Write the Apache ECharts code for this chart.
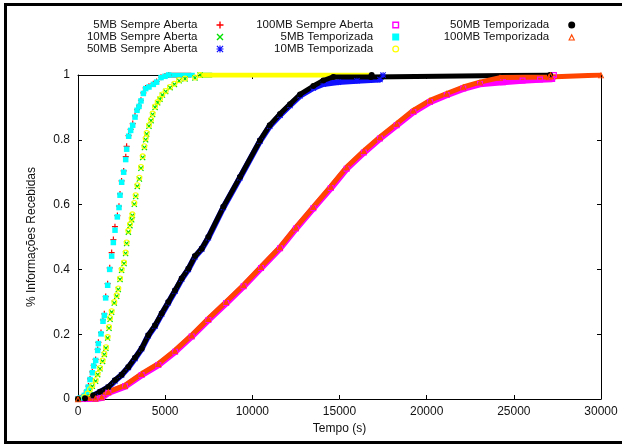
<!DOCTYPE html>
<html>
<head>
<meta charset="utf-8">
<script src="https://cdn.jsdelivr.net/npm/echarts@6/dist/echarts.min.js"></script>
<style>
  html, body { margin: 0; padding: 0; background: #fff; }
  #chart { width: 622px; height: 445px; }
</style>
</head>
<body>
<div id="chart"></div>
<script>
// nomes das curvas, na ordem do gnuplot
const nomes = [
  '5MB Sempre Aberta', '10MB Sempre Aberta', '50MB Sempre Aberta', '100MB Sempre Aberta',
  '5MB Temporizada', '10MB Temporizada', '50MB Temporizada', '100MB Temporizada'
];
const ticksTempo = [0, 5000, 10000, 15000, 20000, 25000, 30000];
const ticksFracao = [0, 0.2, 0.4, 0.6, 0.8, 1];

// [tempo (s), fração recebida]
const sempre5MB = [[0,0],[120,0.004],[360,0.013],[500,0.025],[600,0.040],[690,0.062],[820,0.084],[900,0.104],[1010,0.122],[1130,0.153],[1170,0.175],[1320,0.205],[1430,0.244],[1510,0.263],[1590,0.316],[1700,0.356],[1820,0.405],[1930,0.452],[2030,0.492],[2120,0.532],[2260,0.566],[2350,0.595],[2410,0.633],[2500,0.673],[2620,0.704],[2740,0.748],[2790,0.780],[2900,0.813],[3020,0.832],[3140,0.850],[3270,0.874],[3390,0.893],[3500,0.905],[3610,0.922],[3750,0.945],[3880,0.960],[4070,0.965],[4320,0.973],[4510,0.980],[4760,0.993],[4990,0.997],[5200,1]];
const sempre10MB = [[0,0],[360,0.005],[550,0.015],[690,0.027],[820,0.039],[1010,0.055],[1130,0.075],[1260,0.093],[1410,0.116],[1510,0.137],[1600,0.157],[1700,0.188],[1780,0.218],[1840,0.246],[1930,0.268],[2080,0.296],[2220,0.317],[2310,0.338],[2410,0.369],[2500,0.397],[2640,0.418],[2730,0.449],[2790,0.480],[2890,0.515],[2980,0.535],[3080,0.553],[3120,0.566],[3230,0.601],[3310,0.625],[3400,0.656],[3520,0.679],[3610,0.712],[3710,0.745],[3810,0.776],[3880,0.800],[3940,0.818],[4070,0.842],[4190,0.859],[4280,0.878],[4420,0.900],[4570,0.914],[4700,0.925],[4840,0.938],[5030,0.949],[5280,0.961],[5530,0.971],[5800,0.982],[6140,0.988],[6710,0.991],[7000,1]];
const sempre50MB = [[0,0],[400,0.002],[880,0.010],[1260,0.021],[1740,0.036],[2120,0.056],[2500,0.074],[2890,0.097],[3270,0.125],[3650,0.155],[4030,0.195],[4420,0.225],[4800,0.262],[5180,0.297],[5570,0.333],[5950,0.370],[6330,0.400],[6710,0.439],[7100,0.463],[7480,0.498],[8340,0.591],[9290,0.683],[10440,0.796],[11000,0.842],[11590,0.876],[12160,0.906],[12740,0.936],[13500,0.960],[14070,0.972],[14930,0.978],[16000,0.982],[17320,0.986],[17500,1]];
const sempre100MB = [[0,0],[1000,0.001],[1360,0.004],[1740,0.019],[2700,0.039],[3650,0.074],[4610,0.105],[5570,0.146],[6520,0.193],[7480,0.244],[8500,0.296],[9500,0.348],[10500,0.404],[11590,0.465],[12500,0.526],[13500,0.589],[14500,0.651],[15410,0.711],[16400,0.761],[17320,0.804],[18280,0.845],[19240,0.886],[20190,0.917],[21150,0.938],[22100,0.958],[23060,0.972],[24380,0.978],[25500,0.983],[26500,0.986],[27200,0.988],[27300,1]];
const temp5MB = [[0,0],[115,0.003],[363,0.011],[497,0.022],[593,0.037],[689,0.060],[822,0.081],[899,0.102],[1014,0.119],[1129,0.150],[1167,0.171],[1320,0.201],[1434,0.240],[1511,0.258],[1587,0.312],[1702,0.351],[1817,0.400],[1931,0.441],[2027,0.483],[2123,0.521],[2256,0.562],[2352,0.591],[2410,0.629],[2505,0.669],[2620,0.700],[2735,0.739],[2792,0.771],[2907,0.811],[3022,0.829],[3137,0.845],[3270,0.870],[3385,0.891],[3500,0.903],[3614,0.920],[3749,0.943],[3883,0.958],[4073,0.963],[4322,0.971],[4513,0.978],[4762,0.992],[4991,0.996],[5200,1]];
const temp10MB = [[0,0],[363,0.006],[555,0.017],[689,0.030],[822,0.042],[1014,0.058],[1129,0.078],[1262,0.096],[1415,0.119],[1511,0.140],[1606,0.160],[1702,0.191],[1779,0.222],[1836,0.250],[1931,0.271],[2084,0.299],[2218,0.320],[2314,0.341],[2410,0.372],[2505,0.400],[2639,0.421],[2735,0.452],[2792,0.483],[2888,0.519],[2983,0.539],[3079,0.557],[3117,0.570],[3232,0.605],[3309,0.629],[3405,0.660],[3520,0.683],[3614,0.716],[3711,0.749],[3806,0.780],[3883,0.804],[3941,0.821],[4073,0.845],[4188,0.862],[4284,0.881],[4418,0.903],[4571,0.917],[4705,0.927],[4837,0.940],[5030,0.951],[5279,0.963],[5527,0.973],[5795,0.984],[6140,0.989],[6713,0.992],[7000,1]];
const temp50MB = [[0,0],[400,0.002],[880,0.011],[1262,0.022],[1740,0.037],[2123,0.058],[2505,0.075],[2888,0.099],[3270,0.127],[3653,0.156],[4034,0.197],[4418,0.227],[4800,0.264],[5183,0.299],[5565,0.335],[5948,0.372],[6331,0.402],[6713,0.441],[7096,0.464],[7478,0.500],[8337,0.593],[9293,0.685],[10440,0.798],[11000,0.845],[11590,0.880],[12163,0.910],[12737,0.940],[13500,0.966],[14073,0.983],[14647,0.994],[16800,0.994],[16846,1],[27075,1]];
const temp100MB = [[0,0],[1000,0.002],[1358,0.006],[1740,0.022],[2697,0.042],[3653,0.078],[4609,0.109],[5565,0.150],[6522,0.197],[7478,0.248],[8500,0.300],[9500,0.352],[10500,0.408],[11590,0.469],[12500,0.530],[13500,0.593],[14500,0.656],[15413,0.716],[16400,0.766],[17323,0.809],[18280,0.850],[19235,0.891],[20191,0.922],[21147,0.943],[22103,0.963],[23059,0.978],[24206,0.992],[27000,0.994],[27100,1],[30000,1]];

// fim do patamar em 1 das curvas rápidas
const fimPatamar5Sempre = 6500;
const fimPatamar10Sempre = 7700;
const fimPatamar5Temp = 6700;
const fimPatamar10Temp = 16850;

const cores = ['#ff0000', '#00e000', '#1010ff', '#ff00ff', '#00ffff', '#ffff00', '#000000', '#ff4500'];

// simbolos estilo gnuplot (pt 1..8)
const simbolos = [
  'path://M4,0H6V4H10V6H6V10H4V6H0V4H4Z',
  'path://M0,1.4L1.4,0L5,3.6L8.6,0L10,1.4L6.4,5L10,8.6L8.6,10L5,6.4L1.4,10L0,8.6L3.6,5Z',
  'path://M4.2,0H5.8V4.2H10V5.8H5.8V10H4.2V5.8H0V4.2H4.2ZM0,1.2L1.2,0L5,3.8L8.8,0L10,1.2L6.2,5L10,8.8L8.8,10L5,6.2L1.2,10L0,8.8L3.8,5Z',
  'path://M0,0H10V10H0ZM2,2V8H8V2Z',
  'rect',
  'path://M5,0A5,5 0 1,1 5,10A5,5 0 1,1 5,0ZM5,1.8A3.2,3.2 0 1,0 5,8.2A3.2,3.2 0 1,0 5,1.8Z',
  'circle',
  'path://M5,0L10,10H0ZM5,3.8L2.4,8.7H7.6Z'
];

const chart = echarts.init(document.getElementById('chart'));
const fonte = 'Liberation Sans, Arial, sans-serif';

function curva(i, dados, largura, tam) {
  return {
    name: nomes[i],
    type: 'line',
    data: dados,
    symbol: simbolos[i],
    symbolSize: tam,
    showSymbol: true,
    color: cores[i],
    itemStyle: { color: cores[i] },
    lineStyle: largura > 0 ? { width: largura, color: cores[i] } : { width: 0, opacity: 0 },
    emphasis: { disabled: true },
    z: 2
  };
}

function patamar(i, dados, fim) {
  const ultimo = dados[dados.length - 1];
  return {
    name: nomes[i],
    type: 'line',
    data: [ultimo, [fim, ultimo[1]]],
    showSymbol: false,
    color: cores[i],
    lineStyle: { width: 5, color: cores[i] },
    emphasis: { disabled: true },
    z: 2
  };
}

function legenda(itens, right) {
  return {
    orient: 'vertical',
    align: 'right',
    right: right,
    top: 19,
    padding: 0,
    itemGap: 0,
    itemWidth: 7,
    itemHeight: 7,
    selectedMode: false,
    textStyle: { fontFamily: fonte, fontSize: 11.5, color: '#111', lineHeight: 12, padding: [0, 14, 0, 0] },
    data: itens.map(i => ({ name: nomes[i], icon: simbolos[i] }))
  };
}

const eixoX = {
  type: 'value',
  min: 0,
  max: 30000,
  interval: 5000,
  splitLine: { show: false },
  axisLine: { onZero: false, lineStyle: { color: '#000', width: 1 } },
  axisTick: { inside: true, length: 4, lineStyle: { color: '#000' } }
};
const eixoY = {
  type: 'value',
  min: 0,
  max: 1,
  interval: 0.2,
  splitLine: { show: false },
  axisLine: { onZero: false, lineStyle: { color: '#000', width: 1 } },
  axisTick: { inside: true, length: 4, lineStyle: { color: '#000' } }
};

const option = {
  animation: false,
  backgroundColor: '#fff',
  grid: { left: 78, right: 21, top: 75, bottom: 46 },
  legend: [ legenda([0, 1, 2], 398.5), legenda([3, 4, 5], 222.8), legenda([6, 7], 46.8) ],
  xAxis: [
    Object.assign({}, eixoX, {
      position: 'bottom',
      name: 'Tempo (s)',
      nameLocation: 'middle',
      nameGap: 23,
      nameTextStyle: { fontFamily: fonte, fontSize: 12, color: '#111' },
      axisLabel: {
        margin: 7, fontFamily: fonte, fontSize: 12, color: '#111',
        formatter: v => ticksTempo.includes(v) ? String(v) : ''
      }
    }),
    Object.assign({}, eixoX, { position: 'top', axisLabel: { show: false } })
  ],
  yAxis: [
    Object.assign({}, eixoY, {
      position: 'left',
      name: '% Informações Recebidas',
      nameLocation: 'middle',
      nameGap: 40,
      nameTextStyle: { fontFamily: fonte, fontSize: 12, color: '#111' },
      axisLabel: {
        margin: 8, fontFamily: fonte, fontSize: 12, color: '#111',
        formatter: v => ticksFracao.includes(+v.toFixed(1)) ? String(+v.toFixed(1)) : ''
      }
    }),
    Object.assign({}, eixoY, { position: 'right', axisLabel: { show: false } })
  ],
  // moldura da figura (esquerda, topo, base)
  graphic: [
    { type: 'rect', shape: { x: 4, y: 3, width: 3, height: 441 }, style: { fill: '#000' } },
    { type: 'rect', shape: { x: 4, y: 3, width: 618, height: 3 }, style: { fill: '#000' } },
    { type: 'rect', shape: { x: 4, y: 441, width: 618, height: 3 }, style: { fill: '#000' } }
  ],
  series: [
    curva(0, sempre5MB, 0, 6),
    patamar(0, sempre5MB, fimPatamar5Sempre),
    curva(1, sempre10MB, 0, 6),
    patamar(1, sempre10MB, fimPatamar10Sempre),
    curva(2, sempre50MB, 6, 6),
    curva(3, sempre100MB, 6.5, 6),
    curva(4, temp5MB, 0, 5.5),
    patamar(4, temp5MB, fimPatamar5Temp),
    curva(5, temp10MB, 0, 6),
    patamar(5, temp10MB, fimPatamar10Temp),
    curva(6, temp50MB, 5, 6),
    curva(7, temp100MB, 5, 6.5)
  ]
};

chart.setOption(option);
</script>
</body>
</html>
